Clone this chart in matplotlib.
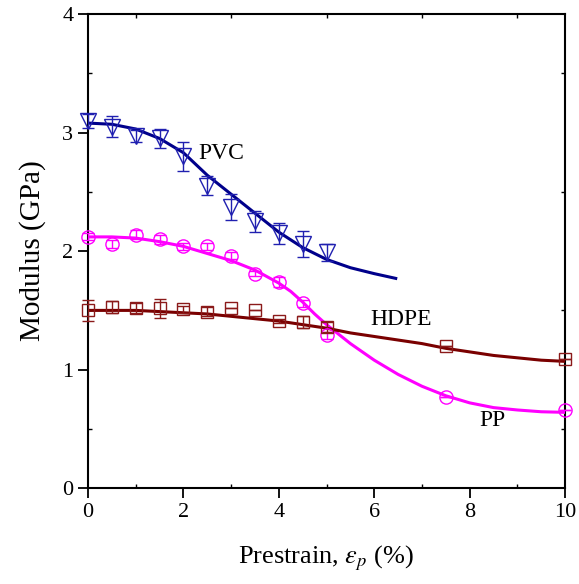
import matplotlib
matplotlib.use("Agg")
import matplotlib.pyplot as plt
from matplotlib.ticker import MultipleLocator

plt.rcParams['font.family'] = ['Liberation Serif', 'DejaVu Serif']
plt.rcParams['mathtext.fontset'] = 'stix'

# ---- data ----
strain = [0, 0.5, 1, 1.5, 2, 2.5, 3, 3.5, 4, 4.5, 5]
strain_ext = [0, 0.5, 1, 1.5, 2, 2.5, 3, 3.5, 4, 4.5, 5, 7.5, 10]

pvc = [3.10, 3.05, 2.97, 2.95, 2.80, 2.55, 2.37, 2.25, 2.15, 2.06, 1.99]
pvc_err = [0.06, 0.09, 0.05, 0.08, 0.12, 0.08, 0.11, 0.09, 0.09, 0.11, 0.07]

pp = [2.12, 2.06, 2.14, 2.10, 2.04, 2.04, 1.96, 1.81, 1.74, 1.56, 1.29, 0.77, 0.66]
pp_err = [0.03, 0.03, 0.04, 0.04, 0.03, 0.03, 0.03, 0.02, 0.04, 0.03, 0.03, 0.0, 0.0]

hdpe = [1.50, 1.53, 1.52, 1.52, 1.51, 1.49, 1.52, 1.50, 1.41, 1.40, 1.36, 1.20, 1.09]
hdpe_err = [0.09, 0.05, 0.04, 0.08, 0.03, 0.04, 0.0, 0.0, 0.02, 0.05, 0.04, 0.0, 0.0]

# fitted curves
pvc_fit_x = [0, 0.5, 1, 1.5, 2, 2.5, 3, 3.5, 4, 4.5, 5, 5.5, 6, 6.45]
pvc_fit_y = [3.08, 3.07, 3.03, 2.95, 2.83, 2.64, 2.48, 2.32, 2.16, 2.03, 1.93, 1.86, 1.81, 1.77]

fit_x = [0, 0.5, 1, 1.5, 2, 2.5, 3, 3.5, 4, 4.25, 4.5, 4.75, 5, 5.5, 6, 6.5, 7, 7.5, 8, 8.5, 9, 9.5, 10]
pp_fit_y = [2.12, 2.12, 2.11, 2.08, 2.04, 1.98, 1.92, 1.84, 1.73, 1.66, 1.57, 1.47, 1.38, 1.22, 1.08,
            0.96, 0.86, 0.78, 0.72, 0.68, 0.66, 0.645, 0.64]
hdpe_fit_y = [1.50, 1.50, 1.50, 1.49, 1.48, 1.47, 1.45, 1.43, 1.41, 1.395, 1.38, 1.365, 1.35, 1.31, 1.28,
              1.25, 1.22, 1.18, 1.15, 1.12, 1.10, 1.08, 1.07]

xticks = [0, 2, 4, 6, 8, 10]
yticks = [0, 1, 2, 3, 4]

# ---- figure ----
fig = plt.figure(figsize=(5.79, 5.84), dpi=100)
ax = fig.add_axes([0.152, 0.164, 0.824, 0.812])

c_pvc_line, c_pvc_mk = '#00008b', '#2020b0'
c_pp = '#ff00ff'
c_hdpe_line, c_hdpe_mk = '#7a0000', '#8b1a1a'

ax.plot(pvc_fit_x, pvc_fit_y, color=c_pvc_line, lw=2.2, zorder=3)
ax.plot(fit_x, pp_fit_y, color=c_pp, lw=2.2, zorder=3)
ax.plot(fit_x, hdpe_fit_y, color=c_hdpe_line, lw=2.2, zorder=3)

ekw = dict(linestyle='none', elinewidth=1.0, capsize=4.5, capthick=1.0,
           markerfacecolor='none', markeredgewidth=1.0, zorder=4, clip_on=False)
ax.errorbar(strain, pvc, yerr=pvc_err, marker='v', markersize=11.5,
            color=c_pvc_mk, ecolor=c_pvc_mk, **ekw)
ax.errorbar(strain_ext, pp, yerr=pp_err, marker='o', markersize=9.5,
            color=c_pp, ecolor=c_pp, **ekw)
ax.errorbar(strain_ext, hdpe, yerr=hdpe_err, marker='s', markersize=9,
            color=c_hdpe_mk, ecolor=c_hdpe_mk, **ekw)

ax.text(2.80, 2.82, 'PVC', fontsize=17, ha='center', va='center')
ax.text(6.56, 1.42, 'HDPE', fontsize=17, ha='center', va='center')
ax.text(8.47, 0.57, 'PP', fontsize=17, ha='center', va='center')

ax.set_xlim(0, 10)
ax.set_ylim(0, 4)
ax.set_xticks(xticks)
ax.set_yticks(yticks)
ax.xaxis.set_minor_locator(MultipleLocator(1))
ax.yaxis.set_minor_locator(MultipleLocator(0.5))
ax.tick_params(which='major', direction='out', length=7, width=1.3, labelsize=16,
               top=False, right=False)
ax.tick_params(which='minor', direction='in', length=3, width=1.0,
               top=True, right=True)
for s in ax.spines.values():
    s.set_linewidth(1.5)

ax.set_xlabel(r'Prestrain, $\varepsilon_p$ (%)', fontsize=19, labelpad=16)
ax.set_ylabel('Modulus (GPa)', fontsize=21, labelpad=12)

fig.savefig('out.png', dpi=100)
